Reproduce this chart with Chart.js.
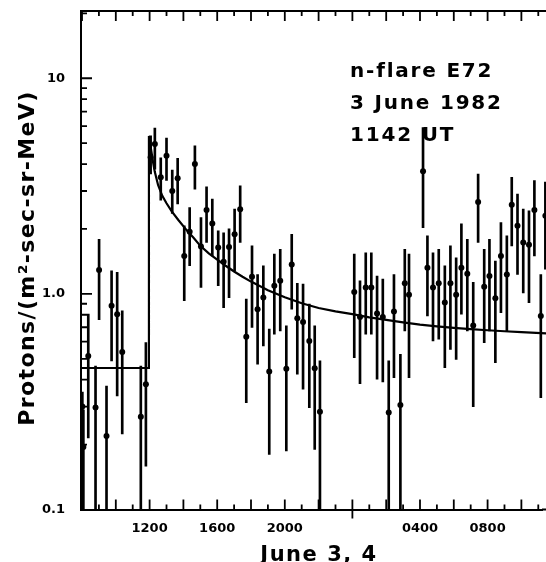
<!DOCTYPE html>
<html>
<head>
<meta charset="utf-8">
<script src="https://cdn.jsdelivr.net/npm/chart.js@4.4.1/dist/chart.umd.min.js"></script>
<style>
  html, body { margin: 0; padding: 0; background: #fff; }
  #plot { display: block; }
</style>
</head>
<body>
<canvas id="plot" width="546" height="562"></canvas>
<script>
// proton rate, 20 min bins, hours counted from 0000 UT June 3
const obsHour = [8.02, 8.08, 8.37, 8.80, 9.01, 9.45, 9.75, 10.08, 10.38, 11.48, 11.78,
  12.06, 12.31, 12.66, 13.00, 13.34, 13.66, 14.05, 14.37, 14.68, 15.04, 15.37, 15.71, 16.06, 16.38, 16.70, 17.03, 17.36,
  17.72, 18.06, 18.39, 18.73, 19.08, 19.38, 19.73, 20.09, 20.41, 20.74, 21.08, 21.45, 21.77, 22.08,
  24.11, 24.45, 24.79, 25.12, 25.46, 25.80, 26.15, 26.46, 26.84, 27.10, 27.35,
  28.18, 28.44, 28.77, 29.11, 29.47, 29.80, 30.14, 30.45, 30.80, 31.15, 31.44, 31.80, 32.11, 32.46, 32.79,
  33.14, 33.43, 33.77, 34.11, 34.45, 34.77, 35.15, 35.42];
const obsRate = [0.30, 0.195, 0.515, 0.297, 1.29, 0.219, 0.88, 0.805, 0.538, 0.269, 0.381,
  4.3, 4.95, 3.47, 4.37, 3.00, 3.44, 1.50, 1.94, 4.00, 1.66, 2.45, 2.12, 1.64, 1.41, 1.65, 1.89, 2.47,
  0.632, 1.20, 0.849, 0.962, 0.436, 1.09, 1.15, 0.45, 1.37, 0.771, 0.741, 0.605, 0.452, 0.284,
  1.02, 0.782, 1.07, 1.07, 0.81, 0.782, 0.282, 0.828, 0.305, 1.12, 0.99,
  3.70, 1.32, 1.07, 1.12, 0.912, 1.12, 0.99, 1.32, 1.24, 0.713, 2.67, 1.08, 1.21, 0.955, 1.50,
  1.23, 2.59, 2.07, 1.73, 1.69, 2.45, 0.79, 2.30];
const obsLow = [0.1, 0.1, 0.215, 0.1, 0.76, 0.1, 0.489, 0.336, 0.224, 0.1, 0.159,
  3.6, 3.79, 2.72, 3.36, 2.36, 2.61, 0.93, 1.35, 3.06, 1.07, 1.73, 1.50, 1.09, 0.864, 0.96, 1.28, 1.73,
  0.313, 0.698, 0.472, 0.574, 0.18, 0.65, 0.673, 0.187, 0.849, 0.424, 0.361, 0.297, 0.19, 0.1,
  0.506, 0.383, 0.65, 0.65, 0.402, 0.39, 0.1, 0.409, 0.1, 0.673, 0.409,
  2.03, 0.79, 0.605, 0.616, 0.455, 0.553, 0.497, 0.805, 0.673, 0.30, 1.73, 0.594, 0.673, 0.48, 0.819,
  0.673, 1.67, 1.23, 1.01, 0.91, 1.50, 0.33, 1.30];
const obsHigh = [0.35, 0.29, 0.805, 0.463, 1.79, 0.374, 1.28, 1.26, 0.834, 0.463, 0.594,
  5.4, 5.88, 4.27, 5.28, 3.75, 4.25, 2.07, 2.51, 4.86, 2.26, 3.14, 2.75, 1.96, 1.92, 2.0, 2.47, 3.17,
  0.945, 1.67, 1.23, 1.35, 0.686, 1.53, 1.61, 0.71, 1.89, 1.12, 1.11, 0.896, 0.71, 0.489,
  1.53, 1.15, 1.55, 1.55, 1.21, 1.17, 0.489, 1.23, 0.525, 1.61, 1.53,
  5.9, 1.86, 1.55, 1.61, 1.35, 1.67, 1.47, 2.11, 1.79, 1.13, 3.59, 1.61, 1.79, 1.42, 2.14,
  1.86, 3.47, 2.9, 2.47, 2.43, 3.35, 1.23, 3.3];

// fitted background + decay curve
const fitHour = [7.94, 11.96, 11.96, 12.1, 12.2, 12.3, 12.5, 12.75, 13.0, 13.3, 13.7, 14.2, 14.6, 15.0, 15.5,
  16.0, 16.5, 17.0, 17.5, 18.0, 19.0, 20.0, 21.0, 22.0, 23.0, 24.0, 25.0, 26.0, 27.0, 28.0, 29.0, 30.0,
  31.0, 32.0, 33.0, 34.0, 35.5];
const fitRate = [0.453, 0.453, 5.4, 4.6, 4.1, 3.7, 3.2, 2.85, 2.63, 2.42, 2.2, 1.97, 1.82, 1.67, 1.54,
  1.44, 1.35, 1.27, 1.2, 1.14, 1.04, 0.965, 0.905, 0.86, 0.83, 0.805, 0.778, 0.757, 0.738, 0.72, 0.706, 0.695,
  0.686, 0.678, 0.671, 0.665, 0.655];

const xTickHours = [12, 16, 20, 28, 32];
const xTickText = ['1200', '1600', '2000', '0400', '0800'];
const yTickValues = [0.1, 1, 10];
const yTickText = ['0.1', '1.0', '10'];
const noteLines = ['n-flare E72', '3 June 1982', '1142 UT'];
const xTitle = 'June 3, 4';
const yTitle = 'Protons/(m\u00B2-sec-sr-MeV)';

// the frame runs off the right edge of the page, let marks spill past the last few px
const edgeClip = { left: 0, top: 0, right: 8, bottom: 0 };

// inward tick marks, top frame line, texts
const framePlugin = {
  id: 'frame',
  afterDatasetsDraw(chart) {
    const { ctx, chartArea: a, scales: { x, y } } = chart;
    ctx.save();
    ctx.strokeStyle = '#000';
    ctx.lineWidth = 2;
    ctx.beginPath();
    ctx.moveTo(a.left - 1, a.top);
    ctx.lineTo(chart.width, a.top);
    ctx.moveTo(a.right, a.bottom);
    ctx.lineTo(chart.width, a.bottom);
    ctx.stroke();

    ctx.lineWidth = 1.8;
    ctx.beginPath();
    for (let h = Math.ceil(x.min); h <= x.max + 0.3; h++) {
      const px = x.getPixelForValue(h);
      const len = h % 2 === 0 ? 10 : 5;
      if (h === 24) {
        ctx.moveTo(px, a.bottom - 10); ctx.lineTo(px, a.bottom + 9);
      } else {
        ctx.moveTo(px, a.bottom); ctx.lineTo(px, a.bottom - len);
      }
      ctx.moveTo(px, a.top); ctx.lineTo(px, a.top + len);
    }
    [0.1, 1, 10].forEach(d => {
      for (let m = 1; m <= 9; m++) {
        const v = d * m;
        if (v <= y.min * 1.001 || v > y.max) continue;
        const py = y.getPixelForValue(v);
        ctx.moveTo(a.left, py);
        ctx.lineTo(a.left + (m === 1 ? 11 : 6), py);
      }
    });
    ctx.stroke();
    ctx.restore();
  },
  afterDraw(chart) {
    const { ctx } = chart;
    ctx.save();
    ctx.fillStyle = '#000';
    ctx.font = 'bold 20px "DejaVu Sans"';
    ctx.letterSpacing = '1.8px';
    ctx.textAlign = 'left';
    ctx.textBaseline = 'alphabetic';
    noteLines.forEach((t, i) => ctx.fillText(t, 350, 77 + i * 32));

    ctx.font = 'bold 21px "DejaVu Sans"';
    ctx.letterSpacing = '1.5px';
    ctx.textAlign = 'center';
    ctx.fillText(xTitle, 319, 561);

    ctx.font = 'bold 22px "DejaVu Sans"';
    ctx.letterSpacing = '1.4px';
    ctx.translate(28, 258);
    ctx.rotate(-Math.PI / 2);
    ctx.textBaseline = 'middle';
    ctx.fillText(yTitle, 0, 0);
    ctx.restore();
  }
};

new Chart(document.getElementById('plot'), {
  type: 'scatter',
  data: {
    datasets: [
      {
        type: 'bar',
        label: 'error',
        data: obsHour.map((h, i) => ({ x: h, y: [obsLow[i], obsHigh[i]] })),
        backgroundColor: '#000',
        borderWidth: 0,
        barThickness: 2,
        clip: edgeClip,
        order: 3
      },
      {
        type: 'scatter',
        label: 'rate',
        data: obsHour.map((h, i) => ({ x: h, y: obsRate[i] })),
        backgroundColor: '#000',
        borderWidth: 0,
        pointRadius: 3,
        clip: edgeClip,
        order: 2
      },
      {
        type: 'line',
        label: 'fit',
        data: fitHour.map((h, i) => ({ x: h, y: fitRate[i] })),
        borderColor: '#000',
        borderWidth: 2.2,
        pointRadius: 0,
        tension: 0,
        fill: false,
        clip: edgeClip,
        order: 1
      }
    ]
  },
  options: {
    responsive: false,
    animation: false,
    layout: { padding: { top: 11, left: 0, right: 0, bottom: 0 } },
    plugins: { legend: { display: false }, tooltip: { enabled: false } },
    scales: {
      x: {
        type: 'linear',
        min: 7.94,
        max: 35.22,
        offset: false,
        grid: { display: false, drawTicks: false },
        border: { display: true, color: '#000', width: 2 },
        afterBuildTicks: s => { s.ticks = xTickHours.map(v => ({ value: v })); },
        afterFit: s => { s.height = 52.5; s.paddingLeft = 0; s.paddingRight = 0; },
        ticks: {
          autoSkip: false,
          maxRotation: 0,
          padding: 11,
          color: '#000',
          font: { family: 'DejaVu Sans', size: 13, weight: 'bold' },
          callback: v => xTickText[xTickHours.indexOf(v)]
        }
      },
      y: {
        type: 'logarithmic',
        min: 0.1,
        max: 20.5,
        grid: { display: false, drawTicks: false },
        border: { display: true, color: '#000', width: 2 },
        afterBuildTicks: s => { s.ticks = yTickValues.map(v => ({ value: v })); },
        afterFit: s => { s.width = 81; s.paddingTop = 0; s.paddingBottom = 0; },
        ticks: {
          autoSkip: false,
          padding: 16,
          color: '#000',
          font: { family: 'DejaVu Sans', size: 13, weight: 'bold' },
          callback: v => yTickText[yTickValues.indexOf(v)]
        }
      }
    }
  },
  plugins: [framePlugin]
});
</script>
</body>
</html>
